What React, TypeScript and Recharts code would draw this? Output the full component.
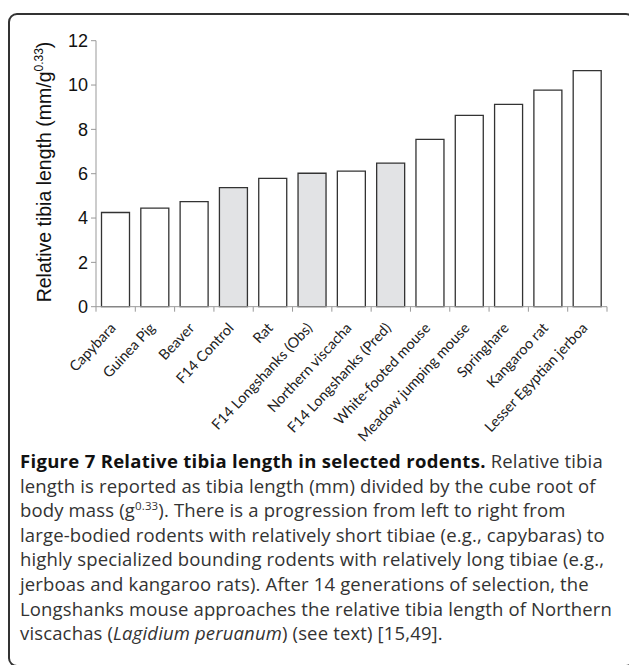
import React from "react";
import { BarChart, Bar, XAxis, YAxis, Cell } from "recharts";

// rodents, ordered left to right as in the figure
const species = [
  "Capybara",
  "Guinea Pig",
  "Beaver",
  "F14 Control",
  "Rat",
  "F14 Longshanks (Obs)",
  "Northern viscacha",
  "F14 Longshanks (Pred)",
  "White-footed mouse",
  "Meadow jumping mouse",
  "Springhare",
  "Kangaroo rat",
  "Lesser Egyptian jerboa",
];
const relTibia = [4.25, 4.45, 4.74, 5.37, 5.79, 6.02, 6.12, 6.48, 7.55, 8.63, 9.13, 9.77, 10.65];
const isLongshanksLine = [false, false, false, true, false, true, false, true, false, false, false, false, false];
const yTicks = [0, 2, 4, 6, 8, 10, 12];

const captionLines = [
  "length is reported as tibia length (mm) divided by the cube root of",
  null, // body mass line has a superscript, built below
  "large-bodied rodents with relatively short tibiae (e.g., capybaras) to",
  "highly specialized bounding rodents with relatively long tibiae (e.g.,",
  "jerboas and kangaroo rats). After 14 generations of selection, the",
  "Longshanks mouse approaches the relative tibia length of Northern",
];

const CHART_W = 629;
const CHART_H = 480;
const AXIS_Y = 306.7;
const Y_AXIS_W = 96;
const RIGHT = 22;
const BAND = (CHART_W - Y_AXIS_W - RIGHT) / species.length;

const data = species.map((name, i) => ({ name, value: relTibia[i], grey: isLongshanksLine[i] }));

const XTick = (props: any) => {
  const { x, y, payload, index } = props;
  const half = BAND / 2;
  return (
    <g>
      <line x1={x - half} x2={x - half} y1={y - 5} y2={y} stroke="#999" strokeWidth={1} />
      {index === species.length - 1 && (
        <line x1={x + half} x2={x + half} y1={y - 5} y2={y} stroke="#999" strokeWidth={1} />
      )}
      <text
        transform={`translate(${x + 1},${y + 17}) rotate(-47)`}
        textAnchor="end"
        fontFamily="Lato, 'Open Sans', sans-serif"
        fontSize={14.5}
        fill="#222"
      >
        {payload.value}
      </text>
    </g>
  );
};

const YLabel = () => (
  <text
    transform="translate(51,172) rotate(-90)"
    textAnchor="middle"
    fontFamily="'Liberation Sans', Arial, sans-serif"
    fontSize={19.5}
    fill="#111"
  >
    Relative tibia length (mm/g
    <tspan fontSize={12} dy={-8}>0.33</tspan>
    <tspan dy={8}>)</tspan>
  </text>
);

const App = () => {
  return (
    <div
      style={{
        position: "fixed",
        top: 0,
        left: 0,
        width: 629,
        height: 665,
        overflow: "hidden",
        background: "#fff",
      }}
    >
      <div
        style={{
          position: "absolute",
          left: 8,
          top: 13,
          width: 627,
          height: 654,
          boxSizing: "border-box",
          border: "2px solid #333",
          borderRadius: 9,
        }}
      />
      <div style={{ position: "absolute", left: 0, top: 0 }}>
        <BarChart
          width={CHART_W}
          height={CHART_H}
          data={data}
          margin={{ top: 40.7, right: RIGHT, left: 0, bottom: 0 }}
          barCategoryGap="14%"
        >
          <XAxis
            dataKey="name"
            interval={0}
            height={CHART_H - AXIS_Y}
            stroke="#999"
            tickLine={false}
            tickSize={5}
            tickMargin={0}
            tick={<XTick />}
          />
          <YAxis
            domain={[0, 12]}
            ticks={yTicks}
            width={Y_AXIS_W}
            stroke="#999"
            tickSize={5}
            tickMargin={3}
            tick={{ fill: "#111", fontSize: 18, fontFamily: "'Liberation Sans', Arial, sans-serif" }}
            label={<YLabel />}
          />
          <Bar dataKey="value" stroke="#333" strokeWidth={1.3} isAnimationActive={false}>
            {data.map((d, i) => (
              <Cell key={`c-${i}`} fill={d.grey ? "#e2e3e5" : "#ffffff"} />
            ))}
          </Bar>
        </BarChart>
      </div>
      <div
        style={{
          position: "absolute",
          left: 20,
          top: 449,
          fontFamily: "'Open Sans', sans-serif",
          fontSize: 18.5,
          letterSpacing: 0.15,
          lineHeight: "24.6px",
          color: "#333",
          whiteSpace: "nowrap",
        }}
      >
        <div>
          <b style={{ color: "#111", letterSpacing: 0.3 }}>Figure 7 Relative tibia length in selected rodents.</b> Relative tibia
        </div>
        {captionLines.map((line, i) =>
          line === null ? (
            <div key={i}>
              body mass (g<sup style={{ fontSize: 11.5, lineHeight: 0 }}>0.33</sup>). There is a progression from left to right from
            </div>
          ) : (
            <div key={i}>{line}</div>
          )
        )}
        <div>
          viscachas (<i>Lagidium peruanum</i>) (see text) [15,49].
        </div>
      </div>
    </div>
  );
};

export default App;
